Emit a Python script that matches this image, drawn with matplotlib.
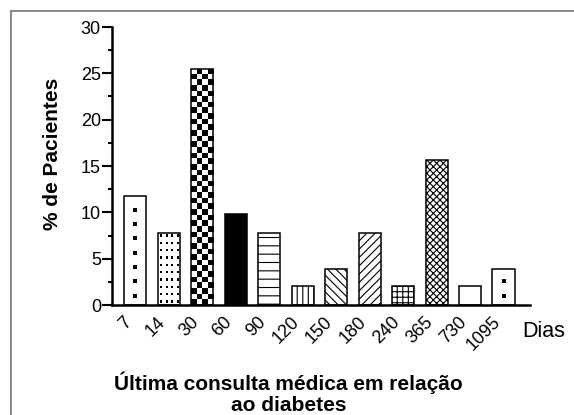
import numpy as np
import matplotlib.pyplot as plt
from matplotlib.lines import Line2D

plt.rcParams['font.family'] = ['Liberation Sans', 'DejaVu Sans']
plt.rcParams['hatch.linewidth'] = 0.8
plt.rcParams['hatch.color'] = 'black'

# % de pacientes por tempo desde a ultima consulta (dias)
dias = ['7', '14', '30', '60', '90', '120', '150', '180', '240', '365', '730', '1095']
pacientes = [11.8, 7.8, 25.5, 9.8, 7.8, 2.0, 3.9, 7.8, 2.0, 15.7, 2.0, 3.9]

# padrao de cada barra
hachuras = ['', '', '', '', '--', '|||', '\\\\\\\\', '////', '+++', 'xxxxx', '', '']
cores = ['white', 'none', 'none', 'black', 'white', 'white', 'white', 'white',
         'white', 'white', 'white', 'white']

fig = plt.figure(figsize=(5.74, 4.15), dpi=100)
ax = fig.add_axes([112 / 574, 1 - 305 / 415, 418 / 574, 278 / 415])

x = np.arange(len(dias))
barras = ax.bar(x, pacientes, width=0.66, color=cores, edgecolor='black',
                linewidth=1.1, zorder=2)
for b, h in zip(barras, hachuras):
    b.set_hatch(h)


def textura(barra, img):
    x0, w, h = barra.get_x(), barra.get_width(), barra.get_height()
    im = ax.imshow(img, cmap='gray_r', vmin=0, vmax=1, extent=(x0, x0 + w, 0, h),
                   aspect='auto', interpolation='nearest', zorder=1.5)
    im.set_clip_path(barra)


# xadrez (30 dias)
textura(barras[2], np.indices((42, 4)).sum(axis=0) % 2)

# pontos em grade (14 dias)
n = int(pacientes[1] / 0.78) * 3
i, j = np.indices((n, 12))
textura(barras[1], ((i % 3 == 1) & (j % 3 == 1)).astype(float))

# coluna de pontos (7 e 1095 dias)
for k in (0, 11):
    yy = np.arange(1.0, pacientes[k], 1.55)
    ax.scatter(np.full(len(yy), x[k]), yy, marker='s', s=5, color='black',
               linewidths=0, zorder=3)

ax.set_xlim(-0.69, 11.79)
ax.set_ylim(0, 30)
ax.set_yticks(np.arange(0, 31, 5))
ax.set_yticks(np.arange(0, 31, 2.5), minor=True)
ax.set_xticks(x)
ax.set_xticklabels(dias, rotation=45, ha='right', va='top')

for s in ('top', 'right'):
    ax.spines[s].set_visible(False)
for s in ('left', 'bottom'):
    ax.spines[s].set_linewidth(1.8)

ax.tick_params(axis='y', which='major', length=7, width=1.5, pad=1, labelsize=13)
ax.tick_params(axis='y', which='minor', length=3, width=1.5)
ax.tick_params(axis='x', length=0, pad=6, labelsize=13)

ax.set_ylabel('% de Pacientes', fontsize=15, fontweight='bold', va='center')
ax.yaxis.set_label_coords(-0.1435, 0.543)
ax.set_xlabel('Última consulta médica em relação\nao diabetes', fontsize=15,
              fontweight='bold', va='center', linespacing=1.15)
ax.xaxis.set_label_coords(0.422, -0.3165)
ax.text(0.9825, -0.097, 'Dias', transform=ax.transAxes, fontsize=15.5,
        ha='left', va='center')

# moldura
fig.add_artist(Line2D([11 / 574, 11 / 574], [0, 1 - 11 / 415],
                      transform=fig.transFigure, color='#808080', lw=1.3))
fig.add_artist(Line2D([11 / 574, 1], [1 - 11 / 415, 1 - 11 / 415],
                      transform=fig.transFigure, color='#808080', lw=1.3))

fig.savefig('out.png', dpi=100)
